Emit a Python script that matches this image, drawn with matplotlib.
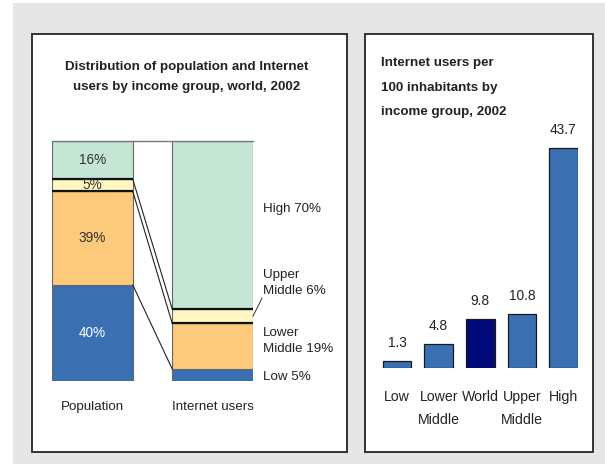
import matplotlib
matplotlib.use('Agg')
import matplotlib.pyplot as plt
from matplotlib.patches import Rectangle
import numpy as np

plt.rcParams['font.family'] = ['Liberation Sans', 'DejaVu Sans']

# ---------------- data ----------------
groups = ['Low', 'Lower Middle', 'Upper Middle', 'High']
population_pct = [40, 39, 5, 16]
internet_pct = [5, 19, 6, 70]
pop_labels = ['40%', '39%', '5%', '16%']
internet_side_labels = ['Low 5%', 'Lower\nMiddle 19%', 'Upper\nMiddle 6%', 'High 70%']
stack_bar_names = ['Population', 'Internet users']

users_categories = ['Low', 'Lower\nMiddle', 'World', 'Upper\nMiddle', 'High']
users_per100 = [1.3, 4.8, 9.8, 10.8, 43.7]
users_labels = ['1.3', '4.8', '9.8', '10.8', '43.7']

left_title = ['Distribution of population and Internet',
              'users by income group, world, 2002']
right_title = ['Internet users per', '100 inhabitants by', 'income group, 2002']

# ---------------- styles ----------------
stack_colors = ['#3a70b2', '#fdc97b', '#fff8c0', '#c5e5d5']
pop_label_colors = ['white', '#333333', '#333333', '#333333']
bar_blue = '#3a70b2'
bar_navy = '#000a78'
text_col = '#222222'
FS = 9.6

W, H = 605, 467
fig = plt.figure(figsize=(W / 100, H / 100), dpi=100)
fig.patch.set_facecolor('white')


def fx(x):
    return x / W


def fy(y):
    return 1 - y / H


def add_rect(x0, y0, x1, y1, **kw):
    r = Rectangle((fx(x0), fy(y1)), fx(x1) - fx(x0), fy(y0) - fy(y1),
                  transform=fig.transFigure, **kw)
    fig.patches.append(r)


add_rect(13, 3, 605, 464, facecolor='#e6e6e6', edgecolor='none', zorder=-20)
add_rect(32, 34, 347, 452, facecolor='white', edgecolor='#333333', lw=1.4, zorder=-10)
add_rect(365, 34, 593, 452, facecolor='white', edgecolor='#333333', lw=1.4, zorder=-10)

# ---------------- left panel ----------------
axL = fig.add_axes([fx(52), fy(381), fx(253) - fx(52), (381 - 141) / H])
axL.set_axis_off()
w = 0.672
axL.set_xlim(-w / 2, 1 + w / 2)
axL.set_ylim(0, 100)

cum_p = np.cumsum(population_pct)
cum_i = np.cumsum(internet_pct)
bot_p = cum_p - np.array(population_pct)
bot_i = cum_i - np.array(internet_pct)

for k in range(len(groups)):
    axL.bar(0, population_pct[k], w, bottom=bot_p[k], color=stack_colors[k],
            edgecolor='#666666', lw=0.8, zorder=2)
    axL.bar(1, internet_pct[k], w, bottom=bot_i[k], color=stack_colors[k],
            edgecolor='#666666', lw=0.8, zorder=2)
    axL.text(0, bot_p[k] + population_pct[k] / 2, pop_labels[k], ha='center',
             va='center', fontsize=FS + 0.2, color=pop_label_colors[k], zorder=4)

# dark borders around the upper-middle band
um = groups.index('Upper Middle')
for yv in (bot_p[um], cum_p[um]):
    axL.plot([-w / 2, w / 2], [yv, yv], color='#111111', lw=1.6, zorder=3,
             solid_capstyle='butt')
for yv in (bot_i[um], cum_i[um]):
    axL.plot([1 - w / 2, 1 + w / 2], [yv, yv], color='#111111', lw=1.6, zorder=3,
             solid_capstyle='butt')

# connectors
for j in range(len(groups) - 1):
    axL.plot([w / 2, 1 - w / 2], [cum_p[j], cum_i[j]], color='#222222', lw=0.8,
             zorder=3)

# top frame line
axL.plot([-w / 2, 1 + w / 2], [100, 100], color='#777777', lw=1.0, zorder=3,
         clip_on=False)

# bar names
for i, name in enumerate(stack_bar_names):
    axL.annotate(name, xy=(i, 0), xytext=(0, -26 * 0.72), textcoords='offset points',
                 ha='center', va='center', fontsize=FS, color=text_col,
                 annotation_clip=False)

# side labels (vertical positions in data units, layout only)
side_y = [1.7, 16.5, 41.0, 71.7]
for k, lab in enumerate(internet_side_labels):
    axL.annotate(lab, xy=(1 + w / 2, side_y[k]), xytext=(10 * 0.72, 0),
                 textcoords='offset points', ha='left', va='center',
                 fontsize=FS, color=text_col, linespacing=1.45,
                 annotation_clip=False)

# leader line for Upper Middle
um_mid = bot_i[um] + internet_pct[um] / 2
axL.plot([1 + w / 2, 1 + w / 2 + 0.075], [um_mid, 34.5], color='#333333', lw=0.7,
         clip_on=False)

for k, line in enumerate(left_title):
    fig.text(fx(187), fy(67 + 20 * k), line, ha='center', va='center',
             fontsize=FS, fontweight='bold', color=text_col)

# ---------------- right panel ----------------
pxu = (368 - 148) / 43.7
ymax = 50
step = 41.6
x_left = 397 - 0.35 * step
x_right = 563.5 + 0.35 * step
axR = fig.add_axes([fx(x_left), fy(368), fx(x_right) - fx(x_left), ymax * pxu / H])
axR.set_axis_off()
axR.set_xlim(-0.35, len(users_categories) - 1 + 0.35)
axR.set_ylim(0, ymax)

xs = np.arange(len(users_categories))
colors = [bar_navy if c == 'World' else bar_blue for c in users_categories]
axR.bar(xs, users_per100, 0.685, color=colors, edgecolor='#1a1a1a', lw=0.9)

for i, v in enumerate(users_per100):
    axR.annotate(users_labels[i], xy=(i, v), xytext=(0, 18 * 0.72),
                 textcoords='offset points', ha='center', va='center',
                 fontsize=FS + 0.3, color=text_col, annotation_clip=False)
    for k, line in enumerate(users_categories[i].split('\n')):
        axR.annotate(line, xy=(i, 0), xytext=(0, -(29 + 23 * k) * 0.72),
                     textcoords='offset points', ha='center', va='center',
                     fontsize=FS + 0.6, color=text_col, annotation_clip=False)

for k, line in enumerate(right_title):
    fig.text(fx(381), fy(63 + 24.5 * k), line, ha='left', va='center',
             fontsize=FS, fontweight='bold', color=text_col)

fig.savefig('out.png', dpi=100, facecolor='white')
